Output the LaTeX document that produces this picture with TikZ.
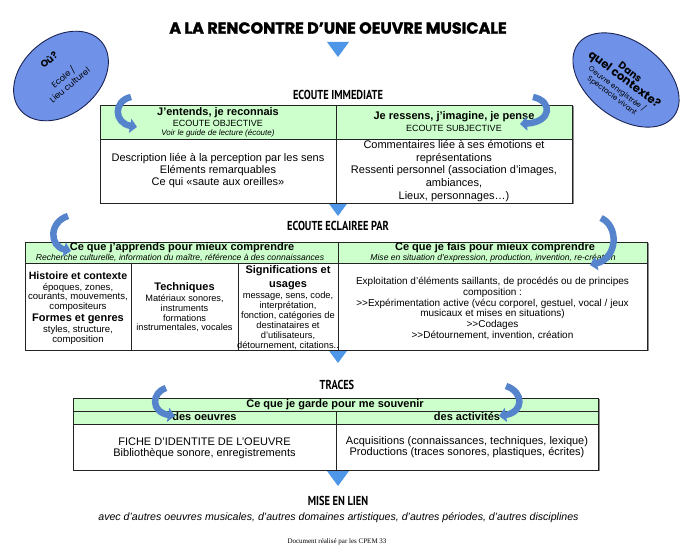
\documentclass[tikz,border=0pt]{standalone}
\usepackage{fontspec}
\setmainfont{Liberation Sans}
\newfontfamily\titlefont{Poppins}[BoldFeatures={FakeBold=1.6}]
\newfontfamily\ellbold{Poppins}
\newfontfamily\hdrfont{PT Sans}[FakeStretch=0.8]
\newfontfamily\docfont{Liberation Serif}
\usetikzlibrary{arrows.meta,shapes.geometric}
\definecolor{hgreen}{RGB}{204,255,204}
\definecolor{ellblue}{RGB}{111,146,232}
\definecolor{ellline}{RGB}{25,35,85}
\definecolor{triblue}{RGB}{78,150,232}
\definecolor{arrblue}{RGB}{86,132,204}
\definecolor{cellline}{RGB}{35,35,35}
\tikzset{
  cellbase/.style={draw=cellline, line width=0.7pt, rectangle, inner sep=0pt},
  hcell/.style={cellbase, fill=hgreen},
  bcell/.style={cellbase, fill=white},
  shadowbox/.style={fill=black!45},
  curvy/.style={draw=arrblue, line width=6.5pt, -{Triangle[length=7pt,width=14pt]}},
  sechead/.style={font=\hdrfont\bfseries\fontsize{13}{13}\selectfont, anchor=mid, inner sep=0pt},
  txt/.style={anchor=mid, inner sep=0pt},
  blk/.style={anchor=center, inner sep=0pt, align=center},
  bhead/.style={txt, font=\bfseries\fontsize{11}{11}\selectfont},
  tri/.style={fill=triblue},
  ell/.style={ellipse, draw=ellline, line width=0.9pt, fill=ellblue, inner sep=0pt}
}
\begin{document}
\begin{tikzpicture}[x=1pt,y=-1pt]
\useasboundingbox[fill=white] (0,0) rectangle (689,553);

% title
\node[txt, font=\titlefont\bfseries\fontsize{16}{16}\selectfont] (title) at (338,31) {A LA RENCONTRE D’UNE OEUVRE MUSICALE};

% ellipses
\node[ell, minimum width=106pt, minimum height=76pt, rotate=40] (where) at (61,76) {};
\node[blk, rotate=40, font=\ellbold\fontsize{8.3}{10}\selectfont] (wheretxt) at (59,72)
  {{\bfseries\fontsize{9.5}{10}\selectfont Où?}\\[12pt] Ecole /\\ Lieu culturel};
\node[ell, minimum width=120pt, minimum height=76pt, rotate=-37] (context) at (626,80) {};
\node[blk, rotate=-37, font=\ellbold\fontsize{7.2}{8.3}\selectfont] (contexttxt) at (621,84)
  {{\bfseries\fontsize{10}{12}\selectfont Dans}\\
   {\bfseries\fontsize{11.5}{13}\selectfont quel contexte?}\\
   Oeuvre enrgistrée /\\ Spectacle vivant};

% triangles
\coordinate (tri0) at (338,42);
\coordinate (tri1) at (338,201);
\coordinate (tri2) at (338,348);
\coordinate (tri3) at (338,471);
\foreach \t in {tri0,tri1,tri2,tri3}{
  \fill[tri] (\t) ++(-11,0) -- ++(22,0) -- ++(-11,15) -- cycle;
}

% ---------- ECOUTE IMMEDIATE ----------
\node[sechead] (immhead) at (338,97) {ECOUTE IMMEDIATE};
\fill[shadowbox] (101.5,106.5) rectangle (573.5,204.5);
\node[hcell, minimum width=236pt, minimum height=34pt] (imLh) at (218,122) {};
\node[hcell, minimum width=236pt, minimum height=34pt] (imRh) at (454,122) {};
\node[bcell, minimum width=236pt, minimum height=64pt] (imLb) at (218,171) {};
\node[bcell, minimum width=236pt, minimum height=64pt] (imRb) at (454,171) {};
\node[bhead] (imL1) at (218,113) {J'entends, je reconnais};
\node[txt, font=\fontsize{9}{9}\selectfont] (imL2) at (218,124) {ECOUTE OBJECTIVE};
\node[txt, font=\itshape\fontsize{8}{8}\selectfont] (imL3) at (218,133) {Voir le guide de lecture (écoute)};
\node[bhead] (imR1) at (454,117) {Je ressens, j'imagine, je pense};
\node[txt, font=\fontsize{9}{9}\selectfont] (imR2) at (454,129) {ECOUTE SUBJECTIVE};
\node[blk, font=\fontsize{11}{12}\selectfont] (imLt) at (218,171)
  {Description liée à la perception par les sens\\Eléments remarquables\\Ce qui «saute aux oreilles»};
\node[blk, font=\fontsize{11}{12.6}\selectfont] (imRt) at (454,171)
  {Commentaires liée à ses émotions et\\représentations\\Ressenti personnel (association d'images,\\ambiances,\\Lieux, personnages…)};

% ---------- ECOUTE ECLAIREE ----------
\node[sechead] (eclhead) at (338,228) {ECOUTE ECLAIREE PAR};
\fill[shadowbox] (26.5,243.5) rectangle (648.5,351.5);
\node[hcell, minimum width=313pt, minimum height=21pt] (ecLh) at (181.5,252.5) {};
\node[hcell, minimum width=309pt, minimum height=21pt] (ecRh) at (492.5,252.5) {};
\node[bcell, minimum width=106pt, minimum height=87pt] (ec1) at (78,306.5) {};
\node[bcell, minimum width=107pt, minimum height=87pt] (ec2) at (184.5,306.5) {};
\node[bcell, minimum width=100pt, minimum height=87pt] (ec3) at (288,306.5) {};
\node[bcell, minimum width=309pt, minimum height=87pt] (ec4) at (492.5,306.5) {};
\node[bhead] (ecL1) at (182,248) {Ce que j'apprends pour mieux comprendre};
\node[txt, font=\itshape\fontsize{8.6}{8.6}\selectfont] (ecL2) at (180,258) {Recherche culturelle, information du maître, référence à des connaissances};
\node[bhead] (ecR1) at (495,248) {Ce que je fais pour mieux comprendre};
\node[txt, font=\itshape\fontsize{8.6}{8.6}\selectfont] (ecR2) at (493,258) {Mise en situation d'expression, production, invention, re-création};
% cell 1
\node[bhead, font=\bfseries\fontsize{10.6}{11}\selectfont] (c1a) at (78,277) {Histoire et contexte};
\node[blk, font=\fontsize{9.6}{9.5}\selectfont] (c1b) at (78,297) {époques, zones,\\courants, mouvements,\\compositeurs};
\node[bhead, font=\bfseries\fontsize{11}{11}\selectfont] (c1c) at (78,319) {Formes et genres};
\node[blk, font=\fontsize{9.6}{10}\selectfont] (c1d) at (78,335) {styles, structure,\\composition};
% cell 2
\node[bhead] (c2a) at (184.5,288) {Techniques};
\node[blk, font=\fontsize{9.2}{9.7}\selectfont] (c2b) at (184.5,313.5) {Matériaux sonores,\\instruments\\formations\\instrumentales, vocales};
% cell 3
\node[blk, font=\bfseries\fontsize{11}{14}\selectfont] (c3a) at (288,278) {Significations et\\usages};
\node[blk, font=\fontsize{9.3}{10}\selectfont] (c3b) at (288,321) {message, sens, code,\\interprétation,\\fonction, catégories de\\destinataires et\\d'utilisateurs,\\détournement, citations..};
% cell 4
\node[blk, font=\fontsize{10}{10.7}\selectfont] (c4) at (492.5,308.5)
  {Exploitation d'éléments saillants, de procédés ou de principes\\composition :\\>{}>Expérimentation active (vécu corporel, gestuel, vocal / jeux\\musicaux et mises en situations)\\>{}>Codages\\>{}>Détournement, invention, création};

% ---------- TRACES ----------
\node[sechead] (trhead) at (337,387) {TRACES};
\fill[shadowbox] (74.5,399.5) rectangle (599.5,471.5);
\node[hcell, minimum width=525pt, minimum height=13pt] (trTop) at (335.5,404.5) {};
\node[hcell, minimum width=263pt, minimum height=13pt] (trLh) at (204.5,417.5) {};
\node[hcell, minimum width=262pt, minimum height=13pt] (trRh) at (467,417.5) {};
\node[bcell, minimum width=263pt, minimum height=46pt] (trLb) at (204.5,447) {};
\node[bcell, minimum width=262pt, minimum height=46pt] (trRb) at (467,447) {};
\node[bhead] (trT) at (335,404.5) {Ce que je garde pour me souvenir};
\node[bhead] (trL) at (204.5,418) {des oeuvres};
\node[bhead] (trR) at (467,418) {des activités};
\node[blk, font=\fontsize{11}{11}\selectfont] (trLt) at (204.5,448) {FICHE D'IDENTITE DE L'OEUVRE\\Bibliothèque sonore, enregistrements};
\node[blk, font=\fontsize{11}{11}\selectfont] (trRt) at (467,447.5) {Acquisitions (connaissances, techniques, lexique)\\Productions (traces sonores, plastiques, écrites)};

% ---------- MISE EN LIEN ----------
\node[sechead] (mise) at (338,503) {MISE EN LIEN};
\node[txt, font=\itshape\fontsize{10.6}{11}\selectfont] (avec) at (338.5,518) {avec d'autres oeuvres musicales, d'autres domaines artistiques, d'autres périodes, d'autres disciplines};
\node[txt, font=\docfont\fontsize{7}{7}\selectfont] (doc) at (337,541) {Document réalisé par les CPEM 33};

% curved arrows
\draw[curvy] (131,97) .. controls (113,101) and (114,123) .. (137,127);
\draw[curvy] (533,97) .. controls (553,101) and (552,122) .. (520,124);
\draw[curvy] (68,216) .. controls (49,222) and (49,246) .. (71,251);
\draw[curvy] (601,218) .. controls (619,226) and (618,258) .. (590,265);
\draw[curvy] (166,388) .. controls (151,393) and (151,412) .. (175,416);
\draw[curvy] (506,386) .. controls (524,392) and (524,412) .. (499,416);
\end{tikzpicture}
\end{document}
